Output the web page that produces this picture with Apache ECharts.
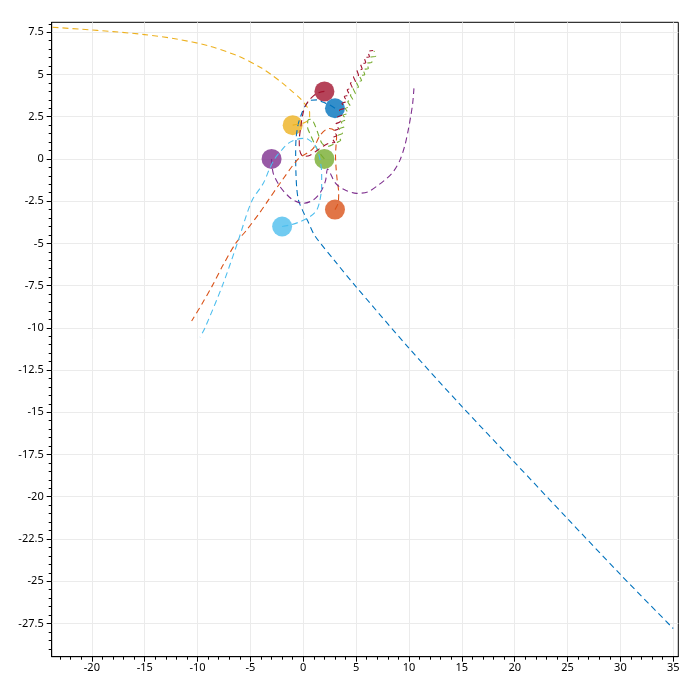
<!DOCTYPE html>
<html><head><meta charset="utf-8">
<script src="https://cdn.jsdelivr.net/npm/echarts@6/dist/echarts.min.js"></script>
<style>html,body{margin:0;padding:0;background:#fff}#c{width:700px;height:700px}</style>
</head><body><div id="c"></div>
<script>
// axis ranges and ticks
const xRange = [-23.8, 35.48];
const yRange = [-29.47, 8.09];
const xTickValues = [-20, -15, -10, -5, 0, 5, 10, 15, 20, 25, 30, 35];
const yTickValues = [-27.5, -25, -22.5, -20, -17.5, -15, -12.5, -10, -7.5, -5, -2.5, 0, 2.5, 5, 7.5];
const xMinorStep = 1;
const yMinorStep = 0.5;

// body names, colours and starting positions
const bodyNames = ['Body 1', 'Body 2', 'Body 3', 'Body 4', 'Body 5', 'Body 6', 'Body 7'];
const bodyColors = ['#0072BD', '#D95319', '#EDB120', '#7E2F8E', '#77AC30', '#4DBEEE', '#A2142F'];
const startX = [3, 3, -1, -3, 2, -2, 2];
const startY = [3, -3, 2, 0, 0, -4, 4];

// trajectories
const track1 = [[3,3],[2.5,3.2],[1.9,3.35],[1.3,3.5],[0.6,3.45],[0.15,3.1],[-0.2,2.6],[-0.5,2.0],[-0.68,1.2],[-0.72,0.3],[-0.7,-0.7],[-0.62,-1.7],[-0.45,-2.45],[-0.1,-3.0],[0.4,-3.65],[1.1,-4.55],[3.0,-6.05],[5,-7.57],[10,-11.2],[15,-14.65],[20,-17.97],[25,-21.3],[30,-24.6],[35,-27.8]];
const track2 = [[3,-3],[3.3,-2.6],[3.35,-2.0],[3.2,-1.2],[3.1,-0.5],[3.05,0.2],[3.1,0.8],[3.15,1.3],[2.9,1.7],[2.4,1.8],[1.6,1.4],[0.9,0.6],[-0.47,0],[-2.2,-1.44],[-3.37,-2.5],[-4.2,-3.25],[-5.35,-4.2],[-6.4,-5],[-7.6,-6.3],[-8.6,-7.5],[-9.6,-8.6],[-10.56,-9.6]];
const track3 = [[-1,2],[-0.5,2.05],[0,2.12],[0.4,2.25],[0.6,2.45],[0.6,2.75],[0.4,3.05],[0.1,3.3],[-0.4,3.65],[-1,3.97],[-2,4.5],[-3,4.98],[-4,5.4],[-6,6.05],[-9,6.7],[-12,7.1],[-15,7.36],[-18,7.54],[-21,7.68],[-23.8,7.8]];
const track4 = [[-3,0],[-2.84,-0.85],[-2.2,-1.64],[-1.5,-2.15],[-0.95,-2.43],[0,-2.63],[0.95,-2.43],[1.6,-2.0],[2.1,-1.3],[2.3,-0.6],[2.6,-0.9],[2.95,-1.35],[3.4,-1.64],[4.1,-1.88],[5.05,-2.04],[6.15,-1.94],[7.1,-1.55],[7.9,-1.15],[8.51,-0.76],[9.15,-0.07],[9.62,0.82],[9.93,1.71],[10.16,2.5],[10.35,3.29],[10.47,4.18]];
const track5 = [[2,0],[1.5,0.4],[1.1,0.85],[0.7,1.4],[0.4,1.9],[0.45,2.3],[0.75,2.35],[1.1,2.0],[1.4,1.5],[1.8,0.9],[2.4,0.75],[2.8,0.85],
  [3.08,0.95],[3.54,1.1],[3.25,1.37],[3.71,1.52],[3.42,1.78],[3.88,1.92],[3.6,2.19],[4.05,2.34],[3.77,2.59],[4.24,2.71],[3.99,2.99],[4.47,3.11],[4.21,3.39],[4.68,3.52],[4.45,3.78],[4.93,3.87],[4.73,4.16],[5.22,4.26],[5.02,4.55],[5.52,4.64],[5.32,4.92],[5.82,4.99],[5.66,5.29],[6.16,5.35],[6.0,5.66],[6.5,5.72],[6.35,6.02],[6.85,6.08],[6.7,6.39]];
const track6 = [[-2,-4],[-1.26,-3.91],[-0.31,-3.72],[0.63,-3.42],[1.27,-3.03],[1.58,-2.43],[1.74,-1.64],[1.74,-0.85],[1.6,-0.1],[1.4,0.4],[1.1,0.82],[0.6,1.1],[0.16,1.22],[-0.62,1.16],[-1.42,0.92],[-2.04,0.53],[-2.68,0.03],[-3.2,-0.6],[-3.78,-1.44],[-4.88,-2.5],[-6.24,-5],[-7.65,-7.5],[-9.3,-10],[-9.77,-10.56]];
const track7 = [[2,4],[1.27,3.88],[0.63,3.53],[0.16,3.09],[-0.09,2.5],[-0.25,1.81],[-0.38,1.12],[-0.33,0.5],[0,0.15],[0.6,0.2],[1.3,0.5],[2.0,0.8],[2.5,0.95],
  [2.99,0.97],[2.72,1.24],[3.16,1.39],[2.89,1.65],[3.33,1.79],[3.06,2.06],[3.5,2.21],[3.23,2.47],[3.68,2.61],[3.43,2.89],[3.91,3.01],[3.66,3.29],[4.12,3.41],[3.88,3.69],[4.36,3.8],[4.16,4.1],[4.65,4.19],[4.46,4.49],[4.94,4.57],[4.75,4.87],[5.23,4.95],[5.08,5.25],[5.57,5.32],[5.42,5.62],[5.91,5.69],[5.77,5.99],[6.26,6.05],[6.12,6.35],[6.61,6.42]];
const tracks = [track1, track2, track3, track4, track5, track6, track7];

function stepTicks(lo, hi, step) {
  const out = [];
  const first = Math.ceil(lo / step) * step;
  for (let v = first; v <= hi + 1e-9; v += step) out.push(+v.toFixed(4));
  return out;
}
const xMinorTicks = stepTicks(xRange[0], xRange[1], xMinorStep);
const yMinorTicks = stepTicks(yRange[0], yRange[1], yMinorStep);

const font = 'Noto Sans';
const chart = echarts.init(document.getElementById('c'), null, {renderer: 'canvas'});

const series = [];
bodyNames.forEach((name, i) => {
  series.push({
    name: name + ' start', type: 'scatter', xAxisIndex: 0, yAxisIndex: 0,
    data: [[startX[i], startY[i]]], symbolSize: 20, z: 2,
    itemStyle: {color: bodyColors[i], opacity: 0.8}, silent: true
  });
});
bodyNames.forEach((name, i) => {
  series.push({
    name: name, type: 'line', xAxisIndex: 0, yAxisIndex: 0,
    data: tracks[i], showSymbol: false, smooth: 0.3, z: 3,
    lineStyle: {color: bodyColors[i], width: 1.1, type: [6, 4]}, silent: true
  });
});

const baseAxis = {
  type: 'value',
  axisLine: {show: true, onZero: false, lineStyle: {color: '#000', width: 1}},
  splitLine: {show: true, lineStyle: {color: '#ebebeb', width: 1}},
};

chart.setOption({
  animation: false,
  backgroundColor: '#fff',
  grid: {left: 51.7, right: 21.7, top: 22.3, bottom: 43.3, show: true, borderColor: '#000', borderWidth: 1, backgroundColor: 'transparent'},
  xAxis: [
    Object.assign({}, baseAxis, {
      position: 'bottom', min: xRange[0], max: xRange[1],
      axisTick: {show: true, inside: false, length: 5, customValues: xTickValues, lineStyle: {color: '#000'}},
      axisLabel: {show: true, margin: 6, customValues: xTickValues, color: '#000', fontSize: 11, fontFamily: font},
    }),
    {
      type: 'value', position: 'bottom', min: xRange[0], max: xRange[1],
      axisLine: {show: false, onZero: false},
      splitLine: {show: false},
      axisTick: {show: true, inside: false, length: 3, customValues: xMinorTicks, lineStyle: {color: '#000'}},
      axisLabel: {show: false},
    }
  ],
  yAxis: [
    Object.assign({}, baseAxis, {
      position: 'left', min: yRange[0], max: yRange[1],
      axisTick: {show: true, inside: false, length: 5, customValues: yTickValues, lineStyle: {color: '#000'}},
      axisLabel: {show: true, margin: 8, customValues: yTickValues, color: '#000', fontSize: 11, fontFamily: font},
    }),
    {
      type: 'value', position: 'left', min: yRange[0], max: yRange[1],
      axisLine: {show: false, onZero: false},
      splitLine: {show: false},
      axisTick: {show: true, inside: false, length: 3, customValues: yMinorTicks, lineStyle: {color: '#000'}},
      axisLabel: {show: false},
    }
  ],
  series: series
});
</script>
</body></html>
